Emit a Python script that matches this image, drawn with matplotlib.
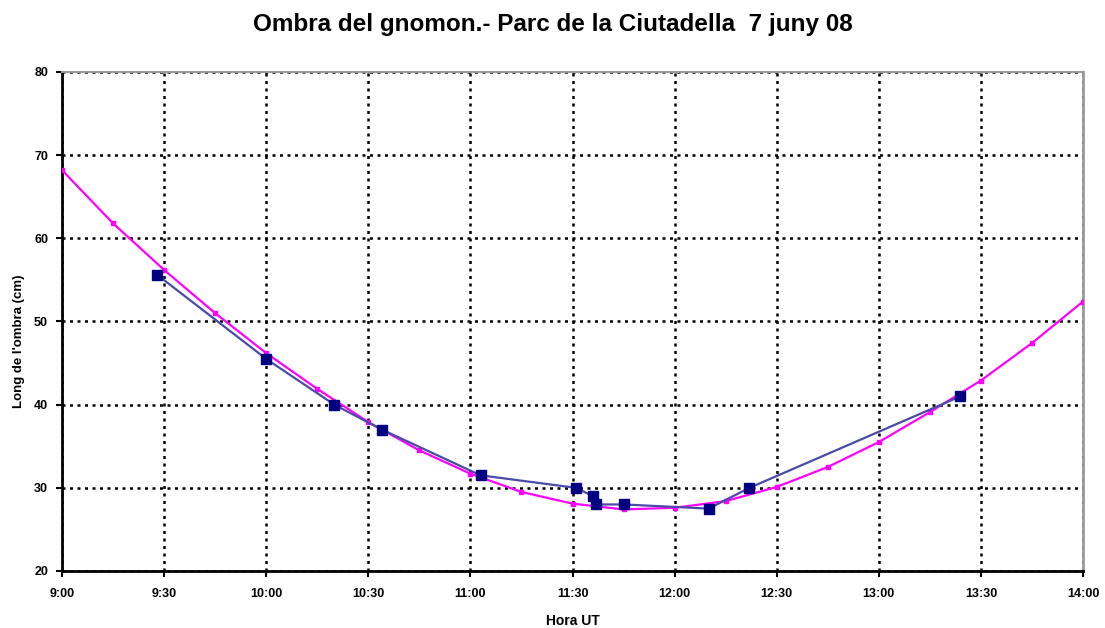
import matplotlib.pyplot as plt

# calculated shadow length every 15 minutes
calc_times = ['9:00', '9:15', '9:30', '9:45', '10:00', '10:15', '10:30', '10:45',
              '11:00', '11:15', '11:30', '11:45', '12:00', '12:15', '12:30', '12:45',
              '13:00', '13:15', '13:30', '13:45', '14:00']
calc_len = [68.2, 61.8, 56.2, 51.0, 46.2, 41.9, 37.9, 34.5, 31.7, 29.5, 28.1,
            27.4, 27.6, 28.4, 30.1, 32.5, 35.5, 39.1, 42.9, 47.4, 52.4]

# measured shadow length
meas_times = ['9:28', '10:00', '10:20', '10:34', '11:03', '11:31', '11:36',
              '11:37', '11:45', '12:10', '12:22', '13:24']
meas_len = [55.6, 45.5, 40.0, 37.0, 31.5, 30.0, 29.0, 28.0, 28.0, 27.5, 30.0, 41.0]

tick_labels = ['9:00', '9:30', '10:00', '10:30', '11:00', '11:30', '12:00',
               '12:30', '13:00', '13:30', '14:00']


def to_hours(t):
    h, m = t.split(':')
    return int(h) + int(m) / 60


narrow = ['Liberation Sans Narrow', 'Liberation Sans', 'DejaVu Sans']

fig = plt.figure(figsize=(11.05, 6.28), dpi=100)
ax = fig.add_axes([0.0561, 0.0908, 0.9240, 0.7946])

ax.plot([to_hours(t) for t in calc_times], calc_len, color='#ff00ff', lw=1.6,
        marker='s', ms=3.5, zorder=3)
ax.plot([to_hours(t) for t in meas_times], meas_len, color='#4a4aa8', lw=1.6,
        marker='s', ms=6.5, mfc='#000080', mec='#000080', zorder=4)

ax.set_xlim(9, 14)
ax.set_ylim(20, 80)
ax.set_xticks([to_hours(t) for t in tick_labels])
ax.set_xticklabels(tick_labels)
ax.set_yticks(range(20, 81, 10))

for lab in ax.get_xticklabels() + ax.get_yticklabels():
    lab.set_family(narrow)
    lab.set_fontweight('bold')
    lab.set_fontsize(9)

ax.grid(True, color='black', linestyle=(0, (1.2, 1.8)), lw=1.8)
ax.tick_params(direction='out', length=4, width=1.5, pad=8)
ax.tick_params(axis='y', pad=6)

ax.spines['left'].set_linewidth(2)
ax.spines['bottom'].set_linewidth(2)
ax.spines['top'].set_color('#999999')
ax.spines['right'].set_color('#999999')
ax.spines['top'].set_linewidth(1.5)
ax.spines['right'].set_linewidth(2)

ax.set_xlabel('Hora UT', family=narrow, fontweight='bold', fontsize=10, labelpad=10)
ax.set_ylabel("Long de l'ombra (cm)", family=narrow, fontweight='bold', fontsize=9.5)
ax.yaxis.set_label_coords(-0.036, 0.46)
fig.suptitle('Ombra del gnomon.- Parc de la Ciutadella  7 juny 08', x=0.5, y=0.98,
             fontsize=17.5, fontweight='bold', family=['Liberation Sans', 'DejaVu Sans'])

fig.savefig('out.png', dpi=100)
